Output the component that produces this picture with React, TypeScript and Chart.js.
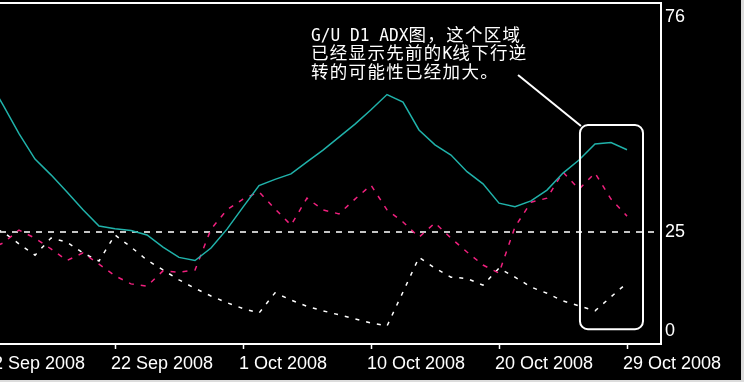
import { useEffect, useRef } from 'react';
import { Chart, registerables } from 'chart.js';

Chart.register(...registerables);

// One entry per daily bar (broker shows Sunday bars)
const barDates = [
  '12 Sep 2008', '14 Sep 2008', '15 Sep 2008', '16 Sep 2008', '17 Sep 2008', '18 Sep 2008',
  '19 Sep 2008', '21 Sep 2008', '22 Sep 2008', '23 Sep 2008', '24 Sep 2008', '25 Sep 2008',
  '26 Sep 2008', '28 Sep 2008', '29 Sep 2008', '30 Sep 2008', '1 Oct 2008', '2 Oct 2008',
  '3 Oct 2008', '5 Oct 2008', '6 Oct 2008', '7 Oct 2008', '8 Oct 2008', '9 Oct 2008',
  '10 Oct 2008', '12 Oct 2008', '13 Oct 2008', '14 Oct 2008', '15 Oct 2008', '16 Oct 2008',
  '17 Oct 2008', '19 Oct 2008', '20 Oct 2008', '21 Oct 2008', '22 Oct 2008', '23 Oct 2008',
  '24 Oct 2008', '26 Oct 2008', '27 Oct 2008', '28 Oct 2008', '29 Oct 2008',
];

// bars that carry a date label on the time axis
const dateTickIndex = [0, 8, 16, 24, 32, 40];

// ADX main line
const adx = [
  59.5, 53.3, 46.9, 41.2, 37.7, 33.9, 29.9, 26.3, 25.7, 25.3, 24.3, 21.6, 19.3, 18.6,
  21.4, 25.6, 30.5, 35.3, 36.7, 37.9, 40.6, 43.2, 46.1, 49.0, 52.2, 55.6, 53.9, 47.7,
  44.4, 42.1, 38.4, 35.7, 31.4, 30.6, 31.9, 34.3, 38.1, 41.0, 44.6, 44.9, 43.3,
];

// +DI
const plusDI = [
  20.9, 22.5, 25.4, 23.6, 21.2, 18.6, 20.3, 17.8, 15.2, 13.4, 12.9, 16.3, 16.0, 16.5,
  25.6, 29.9, 32.3, 33.9, 30.1, 26.5, 32.5, 29.9, 29.0, 32.3, 35.4, 29.9, 27.2, 23.8,
  27.0, 23.6, 20.5, 17.6, 15.8, 26.1, 31.6, 32.5, 38.3, 34.5, 38.1, 32.3, 28.5,
];

// -DI
const minusDI = [
  26.3, 25.0, 22.3, 19.8, 23.6, 22.7, 20.3, 18.5, 24.3, 21.6, 18.7, 16.5, 14.3, 12.4,
  10.7, 9.2, 7.9, 6.9, 11.4, 9.8, 8.4, 7.4, 6.5, 5.6, 4.7, 4.0, 11.6, 19.3,
  16.9, 14.9, 14.6, 13.1, 16.9, 14.9, 12.7, 11.3, 9.6, 8.5, 7.4, 10.5, 13.6,
];

const yTicks = [0, 25, 76];
const levelValue = 25;

const noteLines = ['G/U D1 ADX图，这个区域', '已经显示先前的K线下行逆', '转的可能性已经加大。'];

function drawMixed(ctx: CanvasRenderingContext2D, text: string, x: number, y: number) {
  const runs = text.match(/[\x00-\x7f]+|[^\x00-\x7f]+/g) || [];
  let cx = x;
  for (const r of runs) {
    if (/^[\x00-\x7f]/.test(r)) {
      ctx.font = '18px "DejaVu Sans Mono"';
      (ctx as any).letterSpacing = '0px';
      const w = ctx.measureText(r).width * 0.9;
      ctx.save();
      ctx.translate(cx, y);
      ctx.scale(0.9, 1);
      ctx.fillText(r, 0, 0);
      ctx.restore();
      cx += w;
    } else {
      ctx.font = '17.5px "Noto Sans CJK SC"';
      (ctx as any).letterSpacing = '1.3px';
      ctx.fillText(r, cx, y);
      cx += ctx.measureText(r).width;
    }
  }
}

const notePlugin = {
  id: 'note',
  afterDraw(chart: any) {
    const { ctx, scales } = chart;
    const xs = scales.x;
    const ys = scales.y;
    ctx.save();
    ctx.strokeStyle = '#ffffff';
    ctx.lineWidth = 2;
    const bx0 = xs.getPixelForValue(37.06);
    const bx1 = xs.getPixelForValue(41.0);
    const by0 = ys.getPixelForValue(48.8);
    const by1 = ys.getPixelForValue(3.3);
    ctx.beginPath();
    ctx.roundRect(bx0, by0, bx1 - bx0, by1 - by0, 8);
    ctx.stroke();
    ctx.beginPath();
    ctx.moveTo(xs.getPixelForValue(33.19), ys.getPixelForValue(59.95));
    ctx.lineTo(bx0 + 1, by0 + 1);
    ctx.stroke();

    ctx.fillStyle = '#ffffff';
    ctx.textBaseline = 'alphabetic';
    ctx.textAlign = 'left';
    const baselines = [40.5, 59, 77.5];
    noteLines.forEach((line, i) => drawMixed(ctx, line, 311, baselines[i]));
    ctx.restore();
  },
};

export default function App() {
  const ref = useRef<HTMLCanvasElement | null>(null);

  useEffect(() => {
    if (!ref.current) return;
    const pts = (arr: number[]) => arr.map((v, i) => ({ x: i, y: v }));
    const chart = new Chart(ref.current, {
      type: 'line',
      data: {
        datasets: [
          { data: pts(adx), borderColor: '#20b2aa', borderWidth: 1.5, pointRadius: 0, tension: 0 },
          { data: pts(plusDI), borderColor: '#f0207e', borderWidth: 1.5, borderDash: [5, 7], pointRadius: 0, tension: 0 },
          { data: pts(minusDI), borderColor: '#ffffff', borderWidth: 1.5, borderDash: [4, 7], pointRadius: 0, tension: 0 },
        ],
      },
      options: {
        responsive: false,
        animation: false,
        events: [],
        layout: { padding: { top: 3, left: 0, right: 0, bottom: 0 } },
        plugins: { legend: { display: false }, tooltip: { enabled: false } },
        scales: {
          x: {
            type: 'linear',
            min: 0.8125,
            max: 42.125,
            afterBuildTicks: (s: any) => {
              s.ticks = dateTickIndex.map((v) => ({ value: v }));
            },
            afterFit: (s: any) => {
              s.height = 36;
              s.paddingLeft = 0;
              s.paddingRight = 0;
            },
            grid: { drawOnChartArea: false, drawTicks: true, tickLength: 5, tickColor: '#ffffff', tickWidth: 1.5 },
            border: { display: true, color: '#ffffff', width: 2 },
            ticks: {
              color: '#ffffff',
              font: { family: 'Liberation Sans', size: 18 },
              align: 'start',
              padding: 4,
              labelOffset: -4,
              autoSkip: false,
              maxRotation: 0,
              minRotation: 0,
              callback: (v: any) => barDates[v as number] ?? '',
            },
          },
          y: {
            type: 'linear',
            position: 'right',
            min: 0,
            max: 76,
            afterBuildTicks: (s: any) => {
              s.ticks = yTicks.map((v) => ({ value: v }));
            },
            afterFit: (s: any) => {
              s.width = 80;
              s.paddingTop = 0;
              s.paddingBottom = 0;
            },
            grid: {
              drawTicks: false,
              color: (c: any) =>
                c.tick && c.tick.value === 76 ? '#ffffff' : c.tick && c.tick.value === levelValue ? '#c4c4c4' : 'rgba(0,0,0,0)',
              lineWidth: 2,
            },
            border: {
              display: true,
              color: '#ffffff',
              width: 2,
              dash: (c: any) => (c.tick && c.tick.value === levelValue ? [6, 6] : []),
            },
            ticks: {
              color: '#ffffff',
              padding: 4,
              autoSkip: false,
              font: (c: any) => ({
                family: 'Liberation Sans',
                size: 18,
                lineHeight: c.tick && c.tick.value === 76 ? '29px' : c.tick && c.tick.value === 0 ? '26px' : 1.2,
              }),
              callback: (v: any) => (v === 76 ? ['', '76'] : v === 0 ? ['0', ''] : String(v)),
            },
          },
        },
      },
      plugins: [notePlugin],
    } as any);
    return () => chart.destroy();
  }, []);

  return (
    <div style={{ position: 'fixed', left: 0, top: 0, width: 744, height: 382, background: '#dcdcdc' }}>
      <canvas
        ref={ref}
        width={741}
        height={380}
        style={{ display: 'block', width: 741, height: 380, background: '#000000' }}
      />
    </div>
  );
}
